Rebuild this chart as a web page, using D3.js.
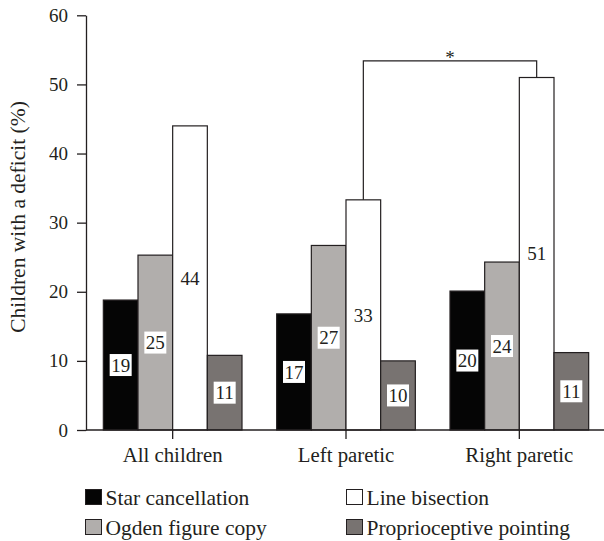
<!DOCTYPE html>
<html>
<head>
<meta charset="utf-8">
<script src="https://cdn.jsdelivr.net/npm/d3@7"></script>
<style>
  body { margin: 0; background: #fff; }
</style>
</head>
<body>
<script>
// data
var groups = ['All children', 'Left paretic', 'Right paretic'];
var measures = ['Star cancellation', 'Ogden figure copy', 'Line bisection', 'Proprioceptive pointing'];
var starCancellation = [18.8, 16.8, 20.1];
var ogdenCopy = [25.3, 26.7, 24.3];
var lineBisection = [44.0, 33.3, 51.0];
var propPointing = [10.8, 10.0, 11.2];
var valueLabels = [[19, 17, 20], [25, 27, 24], [44, 33, 51], [11, 10, 11]];
var yTicks = [0, 10, 20, 30, 40, 50, 60];
var colors = ['#050505', '#b1aeac', '#ffffff', '#787371'];
var bracketTop = 53.4;

var series = [starCancellation, ogdenCopy, lineBisection, propPointing];
var FONT = '"Liberation Serif"';
var INK = '#231f20';

var W = 604, H = 541;
var svg = d3.select('body').append('svg')
    .attr('width', W)
    .attr('height', H);

var y = d3.scaleLinear().domain([0, 60]).range([430, 15.3]);
var x0 = d3.scaleBand().domain(groups).range([86, 606])
    .paddingInner(0.2).paddingOuter(0.1);
var x1 = d3.scaleBand().domain(d3.range(measures.length))
    .range([0, x0.bandwidth()]);

// bars
var bars = [];
for (var s = 0; s < series.length; s++) {
  for (var g = 0; g < groups.length; g++) {
    bars.push({s: s, g: g, value: series[s][g], label: valueLabels[s][g]});
  }
}

svg.selectAll('rect.bar')
    .data(bars)
  .enter().append('rect')
    .attr('class', 'bar')
    .attr('x', function(d) { return x0(groups[d.g]) + x1(d.s); })
    .attr('y', function(d) { return y(d.value); })
    .attr('width', x1.bandwidth())
    .attr('height', function(d) { return y(0) - y(d.value); })
    .attr('fill', function(d) { return colors[d.s]; })
    .attr('stroke', INK)
    .attr('stroke-width', 1.2);

// value labels in white boxes
var lab = svg.selectAll('g.vlab')
    .data(bars)
  .enter().append('g')
    .attr('class', 'vlab')
    .attr('transform', function(d) {
      return 'translate(' + (x0(groups[d.g]) + x1(d.s) + x1.bandwidth() / 2) + ',' + y(d.value / 2) + ')';
    });
lab.append('rect')
    .attr('x', -11).attr('y', -11)
    .attr('width', 22).attr('height', 22)
    .attr('fill', '#fff');
lab.append('text')
    .attr('text-anchor', 'middle')
    .attr('dy', '0.35em')
    .attr('font-size', 19)
    .attr('fill', INK)
    .style('font-family', FONT)
    .text(function(d) { return d.label; });

// axes
var yAxis = svg.append('g')
    .attr('transform', 'translate(86,0)')
    .call(d3.axisLeft(y).tickValues(yTicks).tickSize(9).tickSizeOuter(0).tickPadding(9));
yAxis.attr('font-size', null).attr('font-family', null);
yAxis.selectAll('text')
    .attr('font-size', 19).attr('fill', INK).style('font-family', FONT);

var xAxis = svg.append('g')
    .attr('transform', 'translate(0,430)')
    .call(d3.axisBottom(x0).tickSize(9).tickSizeOuter(0).tickPadding(8));
xAxis.attr('font-size', null).attr('font-family', null);
xAxis.selectAll('text')
    .attr('font-size', 20.8).attr('fill', INK).style('font-family', FONT);
xAxis.select('.domain').attr('d', 'M86,0H604');

svg.selectAll('.domain, .tick line').attr('stroke', INK).attr('stroke-width', 1.3);

svg.append('text')
    .attr('transform', 'translate(25,217) rotate(-90)')
    .attr('text-anchor', 'middle')
    .attr('font-size', 21.5)
    .attr('fill', INK)
    .style('font-family', FONT)
    .text('Children with a deficit (%)');

// significance bracket between left and right paretic line bisection
var bxL = x0(groups[1]) + x1(2) + x1.bandwidth() / 2;
var bxR = x0(groups[2]) + x1(2) + x1.bandwidth() / 2;
svg.append('path')
    .attr('d', 'M' + bxL + ',' + y(lineBisection[1]) + 'V' + y(bracketTop) + 'H' + bxR + 'V' + y(lineBisection[2]))
    .attr('fill', 'none')
    .attr('stroke', INK)
    .attr('stroke-width', 1.2);
svg.append('text')
    .attr('x', (bxL + bxR) / 2)
    .attr('y', y(bracketTop) + 3)
    .attr('text-anchor', 'middle')
    .attr('font-size', 19)
    .attr('fill', INK)
    .style('font-family', FONT)
    .text('*');

// legend
var legendPos = [[85, 497], [85, 527], [346, 497], [346, 527]];
var leg = svg.selectAll('g.legend')
    .data(measures)
  .enter().append('g')
    .attr('class', 'legend')
    .attr('transform', function(d, i) { return 'translate(' + legendPos[i][0] + ',' + legendPos[i][1] + ')'; });
leg.append('rect')
    .attr('x', 0.5).attr('y', -7.5)
    .attr('width', 16).attr('height', 15)
    .attr('fill', function(d, i) { return colors[i]; })
    .attr('stroke', INK)
    .attr('stroke-width', 1);
leg.append('text')
    .attr('x', 20.5)
    .attr('dy', '0.35em')
    .attr('font-size', 21.5)
    .attr('fill', INK)
    .style('font-family', FONT)
    .text(function(d) { return d; });
</script>
</body>
</html>
